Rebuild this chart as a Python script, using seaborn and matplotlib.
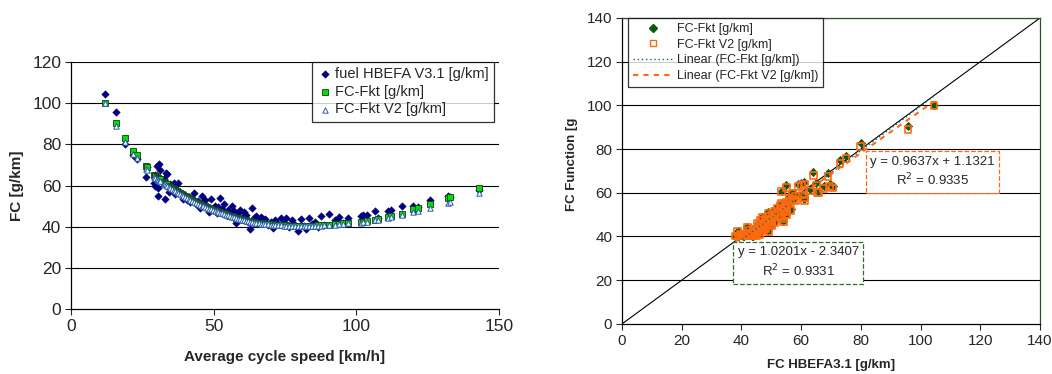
import numpy as np
import pandas as pd
import matplotlib
matplotlib.use("Agg")
import matplotlib.pyplot as plt
from matplotlib.lines import Line2D
import seaborn as sns

# average cycle speed [km/h]
speed = [12.0, 15.8, 18.8, 21.7, 23.1, 26.3, 26.5, 29.2, 29.4, 29.6, 30.1, 30.4, 30.6, 30.9, 31.2,
         32.6, 33.0, 33.4, 33.8, 34.2, 34.8, 35.5, 36.0, 36.5, 37.0, 37.6, 38.2, 38.8, 39.4, 40.0,
         40.6, 41.2, 41.8, 42.5, 43.2, 43.8, 44.5, 45.2, 45.8, 46.4, 47.0, 47.6, 48.3, 49.0, 49.6,
         50.3, 51.0, 51.6, 52.2, 52.8, 53.5, 54.2, 55.0, 55.8, 56.5, 57.2, 57.8, 58.5, 59.2, 60.0,
         60.8, 61.5, 62.2, 62.8, 63.5, 64.2, 65.0, 65.8, 66.5, 67.2, 68.0, 69.0, 70.0, 70.8, 71.5,
         72.5, 73.5, 74.5, 75.5, 76.5, 77.5, 78.5, 79.5, 80.5, 81.5, 82.5, 83.5, 84.5, 85.5, 86.5,
         87.5, 88.5, 90.5, 92.5, 94.0, 95.5, 97.0, 101.5, 102.5, 103.8, 106.5, 107.5, 111.0, 112.0,
         116.0, 120.0, 121.5, 126.0, 132.0, 133.0, 143.0]

fc_hbefa = [104.5, 95.8, 80.0, 75.0, 73.0, 64.0, 69.0, 61.0, 60.0, 65.0, 69.5, 59.0, 55.0, 70.5, 67.5,
            63.0, 53.5, 66.0, 65.5, 57.0, 60.5, 58.0, 61.0, 56.0, 57.5, 61.0, 56.5, 55.0, 53.5, 55.0,
            53.0, 54.5, 52.0, 53.5, 56.5, 51.0, 52.5, 49.0, 55.0, 50.5, 53.0, 49.5, 47.0, 53.5, 48.0,
            50.0, 46.5, 49.5, 54.0, 48.5, 51.0, 45.5, 48.0, 46.0, 50.0, 47.5, 42.0, 46.5, 48.0, 44.0,
            47.0, 45.5, 42.5, 38.8, 49.0, 44.0, 45.0, 43.0, 44.5, 42.0, 43.5, 41.0, 42.5, 39.5, 43.0,
            41.5, 44.0, 42.0, 44.0, 40.0, 43.0, 41.0, 38.0, 43.5, 40.5, 39.0, 44.0, 41.5, 42.5, 40.0,
            45.0, 41.0, 46.0, 43.0, 44.5, 42.0, 44.0, 45.0, 45.5, 45.5, 47.5, 44.0, 47.5, 48.0,
            50.0, 50.0, 49.5, 53.0, 55.0, 54.5, 58.0]

fc_fkt = [100.0, 90.5, 83.0, 77.0, 75.0, 69.5, 69.0, 65.0, 64.5, 64.5, 64.0, 63.8, 63.5, 63.2, 63.0,
          61.5, 61.0, 60.8, 60.5, 60.0, 59.5, 59.0, 58.5, 58.0, 57.5, 57.0, 56.5, 56.0, 55.5, 55.0,
          54.5, 54.0, 53.5, 53.0, 52.5, 52.0, 51.5, 51.0, 50.5, 50.0, 49.8, 49.5, 49.0, 48.6, 48.3,
          48.0, 47.6, 47.2, 47.0, 46.7, 46.4, 46.0, 45.7, 45.3, 45.0, 44.7, 44.4, 44.1, 43.8, 43.5,
          43.2, 43.0, 42.8, 42.6, 42.4, 42.2, 42.0, 41.8, 41.7, 41.6, 41.5, 41.3, 41.2, 41.1, 41.0,
          40.9, 40.8, 40.7, 40.6, 40.5, 40.5, 40.4, 40.4, 40.4, 40.4, 40.4, 40.4, 40.5, 40.5, 40.6,
          40.7, 40.8, 41.0, 41.2, 41.4, 41.6, 41.8, 42.3, 42.5, 42.7, 43.3, 43.6, 44.8, 45.2,
          46.2, 48.5, 49.0, 51.0, 53.8, 54.2, 59.0]

fc_fkt_v2 = [100.0, 89.0, 81.0, 75.5, 73.5, 68.0, 67.5, 64.0, 63.5, 63.5, 63.0, 62.8, 62.5, 62.2, 62.0,
             60.8, 60.5, 60.2, 60.0, 59.5, 59.0, 58.5, 58.0, 57.5, 57.0, 56.5, 56.0, 55.5, 55.0, 54.5,
             54.0, 53.5, 53.0, 52.5, 52.0, 51.5, 51.0, 50.5, 50.0, 49.8, 49.5, 49.2, 48.8, 48.4, 48.0,
             47.8, 47.4, 47.0, 46.8, 46.5, 46.2, 45.8, 45.5, 45.1, 44.8, 44.5, 44.2, 43.9, 43.6, 43.3,
             43.0, 42.8, 42.6, 42.4, 42.2, 42.0, 41.8, 41.6, 41.5, 41.4, 41.3, 41.1, 41.0, 40.9, 40.8,
             40.7, 40.6, 40.5, 40.4, 40.3, 40.3, 40.2, 40.2, 40.2, 40.2, 40.2, 40.2, 40.3, 40.3, 40.4,
             40.5, 40.6, 40.8, 41.0, 41.2, 41.4, 41.6, 42.0, 42.2, 42.4, 43.0, 43.2, 44.2, 44.6,
             45.6, 47.0, 47.8, 49.0, 51.5, 52.0, 56.5]

# trendline coefficients as shown in the chart: slope, intercept, r2
fit_fkt = [1.0201, -2.3407, 0.9331]
fit_fkt_v2 = [0.9637, 1.1321, 0.9335]

df = pd.DataFrame({"speed": speed, "hbefa": fc_hbefa, "fkt": fc_fkt, "fkt_v2": fc_fkt_v2})

sns.set_style("white")
plt.rcParams["font.family"] = ["Liberation Sans", "DejaVu Sans"]

fig = plt.figure(figsize=(10.52, 3.74), dpi=100)
ax1 = fig.add_axes([0.0675, 0.174, 0.4068, 0.660])
ax2 = fig.add_axes([0.5913, 0.134, 0.3973, 0.818])

# ---- left: FC over average cycle speed
sns.scatterplot(data=df, x="speed", y="hbefa", ax=ax1, marker="D", s=15, color="#000080",
                edgecolor="#000080", linewidth=0.3, label="fuel HBEFA V3.1 [g/km]", zorder=3)
sns.scatterplot(data=df, x="speed", y="fkt", ax=ax1, marker="s", s=15, color="#00E000",
                edgecolor="#1a3a1a", linewidth=0.6, label="FC-Fkt [g/km]", zorder=4)
sns.scatterplot(data=df, x="speed", y="fkt_v2", ax=ax1, marker="^", s=15, color="white",
                edgecolor="#2a5caa", linewidth=0.7, label="FC-Fkt V2 [g/km]", zorder=5)

ax1.set_xlim(0, 150)
ax1.set_ylim(0, 120)
ax1.set_xticks([0, 50, 100, 150])
ax1.set_yticks(range(0, 121, 20))
for v in range(20, 121, 20):
    ax1.axhline(v, color="black", lw=0.8, zorder=1)
for s in ["top", "right"]:
    ax1.spines[s].set_visible(False)
for s in ["left", "bottom"]:
    ax1.spines[s].set_color("black")
    ax1.spines[s].set_linewidth(0.9)
ax1.tick_params(axis="both", direction="out", length=4, width=0.8, labelsize=12.5, pad=3,
                bottom=True, left=True)
ax1.set_xlabel("Average cycle speed [km/h]", fontsize=11, fontweight="bold", labelpad=12)
ax1.set_ylabel("FC [g/km]", fontsize=11, fontweight="bold", labelpad=6)
leg1 = ax1.legend(loc="upper right", bbox_to_anchor=(0.988, 1.0), borderaxespad=0, fontsize=10.5,
                  frameon=True, fancybox=False, edgecolor="black", borderpad=0.35,
                  handletextpad=0.2, handlelength=1.0, labelspacing=0.25, markerscale=1.0)
leg1.get_frame().set_linewidth(0.9)

# ---- right: FC function vs HBEFA
sns.scatterplot(data=df, x="hbefa", y="fkt", ax=ax2, marker="D", s=18, color="#0b5a0b",
                edgecolor="#0b3a0b", linewidth=0.4, zorder=3, legend=False)
ax2.scatter(df["hbefa"], df["fkt_v2"], marker="s", s=24, facecolors="none",
            edgecolors="#FF6a10", linewidths=1.2, zorder=4)

ax2.plot([0, 140], [0, 140], color="black", lw=0.8, zorder=2)
xr = np.array([min(fc_hbefa), max(fc_hbefa)])
ax2.plot(xr, fit_fkt[0] * xr + fit_fkt[1], color="#0a6a6a", ls=(0, (1, 2)), lw=1.0, zorder=5)
ax2.plot(xr, fit_fkt_v2[0] * xr + fit_fkt_v2[1], color="#FF6a10", ls=(0, (2.5, 2.5)), lw=1.5, zorder=5)

ax2.set_xlim(0, 140)
ax2.set_ylim(0, 140)
ax2.set_xticks(range(0, 141, 20))
ax2.set_yticks(range(0, 141, 20))
for v in range(20, 141, 20):
    ax2.axhline(v, color="black", lw=0.8, zorder=1)
ax2.spines["left"].set_color("black")
ax2.spines["bottom"].set_color("black")
ax2.spines["top"].set_color("#2f4f2f")
ax2.spines["right"].set_color("#2f4f2f")
for s in ax2.spines.values():
    s.set_linewidth(0.9)
ax2.tick_params(axis="both", direction="out", length=4, width=0.8, labelsize=11, pad=3,
                bottom=True, left=True)
ax2.set_xlabel("FC HBEFA3.1 [g/km]", fontsize=9.5, fontweight="bold", labelpad=8)
ax2.set_ylabel("FC Function [g", fontsize=9.5, fontweight="bold", labelpad=6, y=0.52)

handles = [
    Line2D([], [], marker="D", ls="none", color="#0b5a0b", markersize=4),
    Line2D([], [], marker="s", ls="none", markerfacecolor="none", markeredgecolor="#FF6a10",
           markersize=5),
    Line2D([], [], color="#0a6a6a", ls=(0, (1, 2)), lw=1.0),
    Line2D([], [], color="#FF6a10", ls=(0, (2.5, 2.5)), lw=1.5),
]
labels = ["FC-Fkt [g/km]", "FC-Fkt V2 [g/km]", "Linear (FC-Fkt [g/km])", "Linear (FC-Fkt V2 [g/km])"]
leg2 = ax2.legend(handles, labels, loc="upper left", bbox_to_anchor=(0.015, 1.0), borderaxespad=0,
                  fontsize=9, frameon=True, fancybox=False, edgecolor="black", borderpad=0.4,
                  handletextpad=0.3, handlelength=3.2, labelspacing=0.3)
leg2.get_frame().set_linewidth(0.9)

ax2.text(104, 69.3, "y = %.4fx + %.4f\nR$^2$ = %.4f" % tuple(fit_fkt_v2), ha="center", va="center",
         fontsize=9.5, linespacing=1.3, zorder=6,
         bbox=dict(boxstyle="square,pad=0.35", fc="white", ec="#FF6a10", ls="--", lw=0.9))
ax2.text(59, 28, "y = %.4fx - %.4f\nR$^2$ = %.4f" % (fit_fkt[0], -fit_fkt[1], fit_fkt[2]),
         ha="center", va="center", fontsize=9.5, linespacing=1.3, zorder=6,
         bbox=dict(boxstyle="square,pad=0.35", fc="white", ec="#2e6a2e", ls="--", lw=0.9))

fig.savefig("out.png", dpi=100)
